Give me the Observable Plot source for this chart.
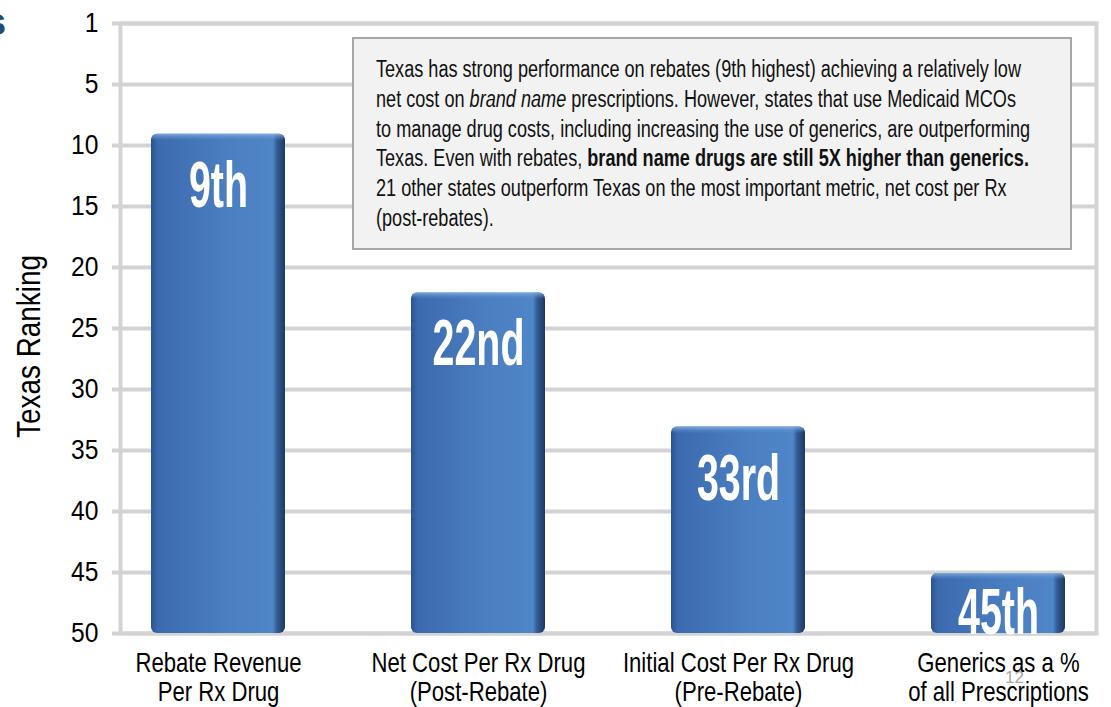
<!DOCTYPE html>
<html>
<head>
<meta charset="utf-8">
<script src="https://cdn.jsdelivr.net/npm/d3@7"></script>
<script src="https://cdn.jsdelivr.net/npm/@observablehq/plot@0.6"></script>
<style>
  html, body { margin: 0; padding: 0; background: #fff; }
  #wrap { position: relative; width: 1111px; height: 707px; overflow: hidden;
          font-family: "Liberation Sans", Arial, sans-serif; }
  #chart { position: absolute; left: 0; top: 0; z-index: 1; }
  #page { position: absolute; left: 1005px; top: 668px; font-size: 17px; color: #a8a8a8;
          font-family: "Liberation Sans", sans-serif; z-index: 0; }
  #note { position: absolute; left: 352px; top: 37px; width: 716px; height: 209px;
          background: #f2f2f2; border: 2px solid #a6a6a6; z-index: 2; }
  #noteText { position: absolute; left: 22px; top: 16px; font-size: 23.5px; line-height: 29.8px;
              color: #111; white-space: nowrap; transform-origin: 0 0; }
  #frag { position: absolute; left: -15px; top: 3px; font: bold 38px/38px "Liberation Sans", sans-serif;
          color: #1f4e79; z-index: 3; }
</style>
</head>
<body>
<div id="wrap">
  <div id="page"></div>
  <div id="chart"></div>
  <div id="note"><div id="noteText"></div></div>
  <div id="frag">s</div>
</div>
<script>
// ---- data ----
const categories = [
  "Rebate Revenue\nPer Rx Drug",
  "Net Cost Per Rx Drug\n(Post-Rebate)",
  "Initial Cost Per Rx Drug\n(Pre-Rebate)",
  "Generics as a %\nof all Prescriptions"
];
const ranks = [9, 22, 33, 45];
const rankLabels = ["9th", "22nd", "33rd", "45th"];
const yTicks = [0, 5, 10, 15, 20, 25, 30, 35, 40, 45, 50];
const yTickLabels = ["1", "5", "10", "15", "20", "25", "30", "35", "40", "45", "50"];
const yTitle = "Texas Ranking";
const pageNumber = "12";
const noteLines = [
  "Texas has strong performance on rebates (9th highest) achieving a relatively low",
  "net cost on <i>brand name</i> prescriptions. However, states that use Medicaid MCOs",
  "to manage drug costs, including increasing the use of generics, are outperforming",
  "Texas. Even with rebates, <b>brand name drugs are still 5X higher than generics.</b>",
  "21 other states outperform Texas on the most important metric, net cost per Rx",
  "(post-rebates)."
];

const yMin = 0, yMax = 50;
const data = categories.map((c, i) => ({ category: c, rank: ranks[i], label: rankLabels[i] }));

const FONT = '"Liberation Sans", Arial, sans-serif';
const GRID = "#d3d3d3";

const chart = Plot.plot({
  width: 1111,
  height: 707,
  marginTop: 23,
  marginBottom: 74,
  marginLeft: 120,
  marginRight: 15,
  style: { background: "transparent", fontFamily: FONT, color: "#000" },
  x: { type: "band", domain: categories, range: [86.6, 1129.4], padding: 0 },
  y: { domain: [yMin, yMax], reverse: true },
  marks: [
    Plot.ruleY(yTicks, { stroke: GRID, strokeWidth: 4 }),
    Plot.frame({ stroke: GRID, strokeWidth: 4 }),
    Plot.axisY({
      ticks: yTicks,
      tickFormat: d => yTickLabels[yTicks.indexOf(d)],
      tickSize: 8, tickPadding: 14, fontSize: 28,
      stroke: GRID, strokeWidth: 4, fill: "#000", label: null
    }),
    Plot.axisX({ tickSize: 0, tickPadding: 17, fontSize: 27, lineHeight: 1.1, fill: "#000", label: null }),
    Plot.text([yTitle], { frameAnchor: "left", textAnchor: "middle", rotate: -90, dx: -91, dy: 18, fontSize: 34, fill: "#000" }),
    Plot.barY(data, {
      x: "category", y1: "rank", y2: () => yMax,
      insetLeft: 63, insetRight: 63, insetTop: 1, fill: "url(#barGrad)", rx: 6
    }),
    Plot.barY(data, {
      x: "category", y1: "rank", y2: "rank",
      insetLeft: 64, insetRight: 64, insetTop: 1, insetBottom: -8, fill: "url(#topGrad)", rx: 5
    }),
    Plot.text(data, {
      x: "category", y: d => Math.min(d.rank, yMax - 6), text: "label",
      dy: 53, fontSize: 64, fontWeight: "bold", fill: "#fff"
    })
  ]
});

document.getElementById("chart").appendChild(chart);
const svg = chart.tagName.toLowerCase() === "svg" ? chart : chart.querySelector("svg");

// gradients for the bar faces
const NS = "http://www.w3.org/2000/svg";
const defs = document.createElementNS(NS, "defs");
defs.innerHTML = `
  <linearGradient id="barGrad" x1="0" x2="1" y1="0" y2="0">
    <stop offset="0" stop-color="#2c538f"/>
    <stop offset="0.05" stop-color="#3c6aae"/>
    <stop offset="0.55" stop-color="#4a7ec1"/>
    <stop offset="0.91" stop-color="#4f86c8"/>
    <stop offset="0.94" stop-color="#325c94"/>
    <stop offset="1" stop-color="#1e385f"/>
  </linearGradient>
  <linearGradient id="topGrad" x1="0" x2="0" y1="0" y2="1">
    <stop offset="0" stop-color="#86b0e3" stop-opacity="0.9"/>
    <stop offset="1" stop-color="#4f84c6" stop-opacity="0"/>
  </linearGradient>`;
svg.insertBefore(defs, svg.firstChild);

// condense texts horizontally (narrow-font look)
const labelTargetWidth = 92; // width of "22nd"
const texts = Array.from(svg.querySelectorAll("text"));
const rankTexts = texts.filter(t => rankLabels.includes(t.textContent));
let s = 0.74;
rankTexts.forEach(t => { if (t.textContent === rankLabels[1]) s = labelTargetWidth / t.getComputedTextLength(); });
const isNum = v => v != null && v !== "" && !isNaN(+v);
function condense(t, k) {
  const xa = t.getAttribute("x"), ya = t.getAttribute("y");
  let x = 0, y = 0;
  if (isNum(xa)) { x = +xa; t.removeAttribute("x"); }
  if (isNum(ya)) { y = +ya; t.removeAttribute("y"); }
  const tr = t.getAttribute("transform") || "";
  t.setAttribute("transform", `${tr} translate(${x},${y}) scale(${k},1)`);
}
texts.forEach(t => {
  let k = 0.82;
  if (rankTexts.includes(t)) k = s;
  else if (yTickLabels.includes(t.textContent) && t.closest('g[aria-label="y-axis tick label"]')) k = 0.88;
  condense(t, k);
});

// annotation box
const nt = document.getElementById("noteText");
nt.innerHTML = noteLines.map(l => `<div>${l}</div>`).join("");
const range = document.createRange();
range.selectNodeContents(nt.firstChild);
const w = range.getBoundingClientRect().width;
nt.style.transform = `scaleX(${645 / w})`;

document.getElementById("page").textContent = pageNumber;
</script>
</body>
</html>
